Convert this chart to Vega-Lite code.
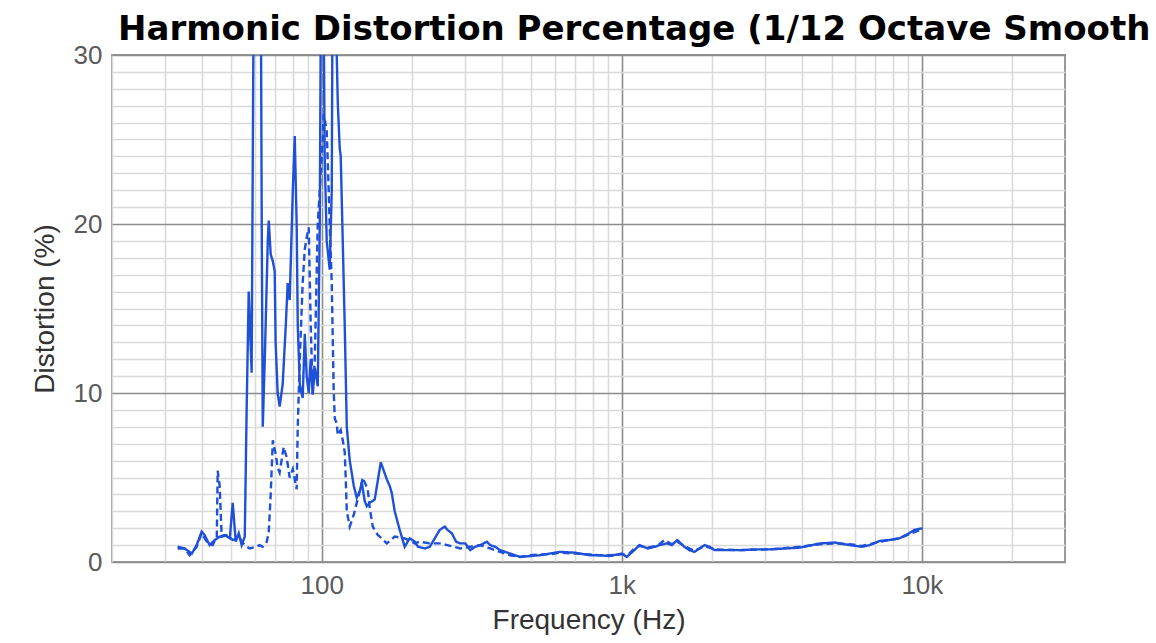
{
  "$schema": "https://vega.github.io/schema/vega-lite/v6.json",
  "autosize": "none",
  "width": 953,
  "height": 507,
  "padding": {"left": 112, "top": 55, "right": 91, "bottom": 81},
  "background": "white",
  "config": {
    "font": "Liberation Sans",
    "view": {"stroke": "#9a9a9a", "strokeWidth": 2}
  },
  "title": {
    "text": "Harmonic Distortion Percentage (1/12 Octave Smooth",
    "anchor": "start",
    "frame": "group",
    "font": "DejaVu Sans",
    "fontSize": 34,
    "fontWeight": "bold",
    "color": "#000000",
    "offset": -5,
    "dx": 6
  },
  "data": {
    "values": [
      {"f": 33.1, "v": 0.9, "s": "A"}, {"f": 34.9, "v": 0.8, "s": "A"}, {"f": 36.9, "v": 0.5, "s": "A"}, {"f": 38.3, "v": 1.0, "s": "A"},
      {"f": 39.8, "v": 1.8, "s": "A"}, {"f": 40.7, "v": 1.6, "s": "A"}, {"f": 42.3, "v": 1.0, "s": "A"}, {"f": 44.0, "v": 1.3, "s": "A"},
      {"f": 45.7, "v": 1.5, "s": "A"}, {"f": 47.5, "v": 1.6, "s": "A"}, {"f": 49.4, "v": 1.4, "s": "A"}, {"f": 50.5, "v": 3.5, "s": "A"},
      {"f": 51.7, "v": 1.2, "s": "A"}, {"f": 52.9, "v": 1.7, "s": "A"}, {"f": 54.1, "v": 1.0, "s": "A"}, {"f": 55.4, "v": 1.5, "s": "A"},
      {"f": 56.2, "v": 9.0, "s": "A"}, {"f": 57.1, "v": 16.0, "s": "A"}, {"f": 58.4, "v": 11.2, "s": "A"}, {"f": 59.0, "v": 26.0, "s": "A"},
      {"f": 59.6, "v": 40.0, "s": "A"}, {"f": 62.5, "v": 40.0, "s": "A"}, {"f": 63.1, "v": 20.0, "s": "A"}, {"f": 63.6, "v": 8.0, "s": "A"},
      {"f": 64.6, "v": 12.0, "s": "A"}, {"f": 66.1, "v": 19.0, "s": "A"}, {"f": 66.6, "v": 20.2, "s": "A"}, {"f": 67.6, "v": 18.2, "s": "A"},
      {"f": 68.7, "v": 17.8, "s": "A"}, {"f": 69.7, "v": 17.2, "s": "A"}, {"f": 70.2, "v": 13.0, "s": "A"}, {"f": 71.3, "v": 10.0, "s": "A"},
      {"f": 72.4, "v": 9.2, "s": "A"}, {"f": 74.1, "v": 10.5, "s": "A"}, {"f": 75.9, "v": 14.0, "s": "A"}, {"f": 77.0, "v": 16.5, "s": "A"},
      {"f": 78.2, "v": 15.5, "s": "A"}, {"f": 80.1, "v": 22.0, "s": "A"}, {"f": 81.3, "v": 25.2, "s": "A"}, {"f": 82.5, "v": 20.0, "s": "A"},
      {"f": 83.2, "v": 14.0, "s": "A"}, {"f": 84.5, "v": 10.5, "s": "A"}, {"f": 86.4, "v": 9.7, "s": "A"}, {"f": 87.8, "v": 13.5, "s": "A"},
      {"f": 89.1, "v": 11.0, "s": "A"}, {"f": 90.5, "v": 10.0, "s": "A"}, {"f": 91.9, "v": 12.0, "s": "A"}, {"f": 93.3, "v": 9.9, "s": "A"},
      {"f": 94.8, "v": 11.5, "s": "A"}, {"f": 97.0, "v": 10.4, "s": "A"}, {"f": 98.5, "v": 20.0, "s": "A"}, {"f": 99.8, "v": 40.0, "s": "A"},
      {"f": 100.8, "v": 40.0, "s": "A"}, {"f": 102.3, "v": 24.0, "s": "A"}, {"f": 103.9, "v": 19.0, "s": "A"}, {"f": 106.3, "v": 17.3, "s": "A"},
      {"f": 108.0, "v": 22.0, "s": "A"}, {"f": 109.0, "v": 40.0, "s": "A"}, {"f": 110.5, "v": 40.0, "s": "A"}, {"f": 112.2, "v": 30.0, "s": "A"},
      {"f": 113.1, "v": 27.2, "s": "A"}, {"f": 114.8, "v": 24.5, "s": "A"}, {"f": 115.7, "v": 24.0, "s": "A"}, {"f": 117.5, "v": 19.0, "s": "A"},
      {"f": 119.3, "v": 14.0, "s": "A"}, {"f": 121.2, "v": 8.0, "s": "A"}, {"f": 124.0, "v": 6.0, "s": "A"}, {"f": 127.9, "v": 4.5, "s": "A"},
      {"f": 130.8, "v": 3.8, "s": "A"}, {"f": 133.9, "v": 4.2, "s": "A"}, {"f": 136.0, "v": 4.7, "s": "A"}, {"f": 139.1, "v": 3.6, "s": "A"},
      {"f": 141.3, "v": 3.3, "s": "A"}, {"f": 144.5, "v": 3.5, "s": "A"}, {"f": 150.2, "v": 3.7, "s": "A"}, {"f": 153.7, "v": 4.8, "s": "A"},
      {"f": 157.3, "v": 5.9, "s": "A"}, {"f": 161.0, "v": 5.4, "s": "A"}, {"f": 164.7, "v": 4.9, "s": "A"}, {"f": 168.5, "v": 4.5, "s": "A"},
      {"f": 171.1, "v": 4.1, "s": "A"}, {"f": 175.1, "v": 3.0, "s": "A"}, {"f": 181.9, "v": 1.9, "s": "A"}, {"f": 189.0, "v": 0.9, "s": "A"},
      {"f": 196.4, "v": 1.4, "s": "A"}, {"f": 204.2, "v": 1.2, "s": "A"}, {"f": 209.4, "v": 0.9, "s": "A"}, {"f": 220.6, "v": 0.8, "s": "A"},
      {"f": 229.1, "v": 0.9, "s": "A"}, {"f": 238.1, "v": 1.4, "s": "A"}, {"f": 247.4, "v": 1.9, "s": "A"}, {"f": 257.0, "v": 2.1, "s": "A"},
      {"f": 262.5, "v": 1.9, "s": "A"}, {"f": 271.3, "v": 1.7, "s": "A"}, {"f": 280.5, "v": 1.2, "s": "A"}, {"f": 289.7, "v": 1.1, "s": "A"},
      {"f": 300.9, "v": 1.1, "s": "A"}, {"f": 312.6, "v": 0.7, "s": "A"}, {"f": 324.8, "v": 0.9, "s": "A"}, {"f": 337.5, "v": 1.0, "s": "A"},
      {"f": 355.0, "v": 1.2, "s": "A"}, {"f": 364.3, "v": 1.0, "s": "A"}, {"f": 378.4, "v": 0.9, "s": "A"}, {"f": 393.2, "v": 0.7, "s": "A"},
      {"f": 408.5, "v": 0.6, "s": "A"}, {"f": 424.4, "v": 0.5, "s": "A"}, {"f": 458.1, "v": 0.3, "s": "A"}, {"f": 494.5, "v": 0.35, "s": "A"},
      {"f": 533.8, "v": 0.4, "s": "A"}, {"f": 576.2, "v": 0.5, "s": "A"}, {"f": 622.0, "v": 0.6, "s": "A"}, {"f": 698.0, "v": 0.55, "s": "A"},
      {"f": 783.0, "v": 0.4, "s": "A"}, {"f": 843.0, "v": 0.4, "s": "A"}, {"f": 909.0, "v": 0.35, "s": "A"}, {"f": 1000, "v": 0.5, "s": "A"},
      {"f": 1039, "v": 0.3, "s": "A"}, {"f": 1101, "v": 0.7, "s": "A"}, {"f": 1145, "v": 1.0, "s": "A"}, {"f": 1220, "v": 0.8, "s": "A"},
      {"f": 1290, "v": 0.9, "s": "A"}, {"f": 1334, "v": 1.0, "s": "A"}, {"f": 1417, "v": 1.1, "s": "A"}, {"f": 1468, "v": 1.0, "s": "A"},
      {"f": 1531, "v": 1.3, "s": "A"}, {"f": 1616, "v": 0.9, "s": "A"}, {"f": 1679, "v": 0.7, "s": "A"}, {"f": 1746, "v": 0.6, "s": "A"},
      {"f": 1887, "v": 1.0, "s": "A"}, {"f": 1961, "v": 0.9, "s": "A"}, {"f": 2039, "v": 0.7, "s": "A"}, {"f": 2203, "v": 0.7, "s": "A"},
      {"f": 2483, "v": 0.7, "s": "A"}, {"f": 2792, "v": 0.75, "s": "A"}, {"f": 3126, "v": 0.75, "s": "A"}, {"f": 3500, "v": 0.8, "s": "A"},
      {"f": 3923, "v": 0.85, "s": "A"}, {"f": 4571, "v": 1.1, "s": "A"}, {"f": 5128, "v": 1.15, "s": "A"}, {"f": 5754, "v": 1.0, "s": "A"},
      {"f": 6310, "v": 0.9, "s": "A"}, {"f": 6714, "v": 1.0, "s": "A"}, {"f": 7241, "v": 1.25, "s": "A"}, {"f": 7808, "v": 1.3, "s": "A"},
      {"f": 8414, "v": 1.4, "s": "A"}, {"f": 9077, "v": 1.7, "s": "A"}, {"f": 9437, "v": 1.9, "s": "A"}, {"f": 10077, "v": 2.0, "s": "A"},

      {"f": 33.1, "v": 0.8, "s": "B"}, {"f": 34.9, "v": 0.8, "s": "B"}, {"f": 36.3, "v": 0.4, "s": "B"}, {"f": 38.3, "v": 0.9, "s": "B"},
      {"f": 39.8, "v": 1.7, "s": "B"}, {"f": 41.4, "v": 1.2, "s": "B"}, {"f": 43.3, "v": 1.0, "s": "B"}, {"f": 44.7, "v": 1.5, "s": "B"},
      {"f": 45.0, "v": 5.4, "s": "B"}, {"f": 45.7, "v": 4.5, "s": "B"}, {"f": 46.4, "v": 1.5, "s": "B"}, {"f": 48.6, "v": 1.6, "s": "B"},
      {"f": 50.5, "v": 1.3, "s": "B"}, {"f": 53.3, "v": 1.4, "s": "B"}, {"f": 55.4, "v": 1.0, "s": "B"}, {"f": 57.5, "v": 0.8, "s": "B"},
      {"f": 60.3, "v": 0.9, "s": "B"}, {"f": 62.1, "v": 1.0, "s": "B"}, {"f": 63.6, "v": 0.9, "s": "B"}, {"f": 65.6, "v": 1.2, "s": "B"},
      {"f": 66.6, "v": 1.8, "s": "B"}, {"f": 67.6, "v": 4.0, "s": "B"}, {"f": 68.7, "v": 7.2, "s": "B"}, {"f": 70.2, "v": 6.4, "s": "B"},
      {"f": 71.3, "v": 5.6, "s": "B"}, {"f": 72.4, "v": 5.3, "s": "B"}, {"f": 74.7, "v": 6.8, "s": "B"}, {"f": 76.4, "v": 6.2, "s": "B"},
      {"f": 78.2, "v": 5.0, "s": "B"}, {"f": 80.1, "v": 5.5, "s": "B"}, {"f": 82.5, "v": 4.3, "s": "B"}, {"f": 83.2, "v": 8.0, "s": "B"},
      {"f": 84.5, "v": 12.0, "s": "B"}, {"f": 86.4, "v": 16.5, "s": "B"}, {"f": 87.8, "v": 18.5, "s": "B"}, {"f": 89.1, "v": 19.2, "s": "B"},
      {"f": 90.5, "v": 19.8, "s": "B"}, {"f": 91.9, "v": 14.0, "s": "B"}, {"f": 93.3, "v": 10.0, "s": "B"}, {"f": 94.8, "v": 12.0, "s": "B"},
      {"f": 97.0, "v": 20.0, "s": "B"}, {"f": 98.5, "v": 22.0, "s": "B"}, {"f": 100.8, "v": 25.0, "s": "B"}, {"f": 101.5, "v": 26.5, "s": "B"},
      {"f": 102.3, "v": 26.2, "s": "B"}, {"f": 103.9, "v": 25.5, "s": "B"}, {"f": 105.5, "v": 22.0, "s": "B"}, {"f": 106.3, "v": 20.0, "s": "B"},
      {"f": 108.0, "v": 16.5, "s": "B"}, {"f": 109.6, "v": 10.2, "s": "B"}, {"f": 110.5, "v": 8.5, "s": "B"}, {"f": 112.2, "v": 8.2, "s": "B"},
      {"f": 113.1, "v": 7.5, "s": "B"}, {"f": 115.7, "v": 7.8, "s": "B"}, {"f": 117.5, "v": 7.2, "s": "B"}, {"f": 119.3, "v": 6.5, "s": "B"},
      {"f": 120.2, "v": 5.0, "s": "B"}, {"f": 121.2, "v": 3.0, "s": "B"}, {"f": 124.0, "v": 2.1, "s": "B"}, {"f": 127.9, "v": 2.8, "s": "B"},
      {"f": 130.8, "v": 3.5, "s": "B"}, {"f": 134.0, "v": 4.2, "s": "B"}, {"f": 137.0, "v": 5.0, "s": "B"}, {"f": 139.1, "v": 4.7, "s": "B"},
      {"f": 142.4, "v": 4.3, "s": "B"}, {"f": 144.5, "v": 3.2, "s": "B"}, {"f": 147.9, "v": 2.1, "s": "B"}, {"f": 153.7, "v": 1.6, "s": "B"},
      {"f": 156.1, "v": 1.5, "s": "B"}, {"f": 164.7, "v": 1.1, "s": "B"}, {"f": 175.1, "v": 1.5, "s": "B"}, {"f": 189.0, "v": 1.4, "s": "B"},
      {"f": 204.2, "v": 1.1, "s": "B"}, {"f": 212.0, "v": 1.2, "s": "B"}, {"f": 229.1, "v": 1.1, "s": "B"}, {"f": 247.4, "v": 1.1, "s": "B"},
      {"f": 262.0, "v": 1.0, "s": "B"}, {"f": 289.7, "v": 0.8, "s": "B"}, {"f": 312.6, "v": 0.9, "s": "B"}, {"f": 337.5, "v": 1.0, "s": "B"},
      {"f": 364.3, "v": 0.8, "s": "B"}, {"f": 393.0, "v": 0.6, "s": "B"}, {"f": 424.0, "v": 0.4, "s": "B"}, {"f": 458.0, "v": 0.3, "s": "B"},
      {"f": 494.0, "v": 0.4, "s": "B"}, {"f": 534.0, "v": 0.45, "s": "B"}, {"f": 576.0, "v": 0.45, "s": "B"}, {"f": 622.0, "v": 0.55, "s": "B"},
      {"f": 698.0, "v": 0.5, "s": "B"}, {"f": 783.0, "v": 0.45, "s": "B"}, {"f": 843.0, "v": 0.4, "s": "B"}, {"f": 909.0, "v": 0.4, "s": "B"},
      {"f": 1000, "v": 0.45, "s": "B"}, {"f": 1059, "v": 0.5, "s": "B"}, {"f": 1101, "v": 0.8, "s": "B"}, {"f": 1145, "v": 0.95, "s": "B"},
      {"f": 1220, "v": 0.85, "s": "B"}, {"f": 1290, "v": 0.95, "s": "B"}, {"f": 1334, "v": 1.05, "s": "B"}, {"f": 1387, "v": 1.3, "s": "B"},
      {"f": 1468, "v": 1.05, "s": "B"}, {"f": 1531, "v": 1.2, "s": "B"}, {"f": 1616, "v": 0.95, "s": "B"}, {"f": 1746, "v": 0.65, "s": "B"},
      {"f": 1887, "v": 0.95, "s": "B"}, {"f": 2039, "v": 0.75, "s": "B"}, {"f": 2483, "v": 0.7, "s": "B"}, {"f": 3126, "v": 0.75, "s": "B"},
      {"f": 3923, "v": 0.9, "s": "B"}, {"f": 4571, "v": 1.05, "s": "B"}, {"f": 5128, "v": 1.1, "s": "B"}, {"f": 5754, "v": 1.05, "s": "B"},
      {"f": 6310, "v": 0.95, "s": "B"}, {"f": 6714, "v": 1.05, "s": "B"}, {"f": 7241, "v": 1.2, "s": "B"}, {"f": 8414, "v": 1.4, "s": "B"},
      {"f": 9077, "v": 1.65, "s": "B"}, {"f": 10077, "v": 1.95, "s": "B"}
    ]
  },
  "mark": {"type": "line", "clip": true, "strokeWidth": 2.4, "interpolate": "linear"},
  "encoding": {
    "x": {
      "field": "f",
      "type": "quantitative",
      "scale": {"type": "log", "domain": [20, 30000], "nice": false},
      "axis": {
        "title": "Frequency (Hz)",
        "titleFont": "Liberation Sans",
        "titleFontSize": 28,
        "titleFontWeight": "normal",
        "titleColor": "#333333",
        "titlePadding": 8,
        "values": [20, 30, 40, 50, 60, 70, 80, 90, 100, 200, 300, 400, 500, 600, 700, 800, 900, 1000, 2000, 3000, 4000, 5000, 6000, 7000, 8000, 9000, 10000, 20000],
        "labelExpr": "datum.value == 100 ? '100' : datum.value == 1000 ? '1k' : datum.value == 10000 ? '10k' : ''",
        "labelOverlap": false,
        "labelFont": "Liberation Sans",
        "labelFontSize": 26,
        "labelColor": "#5a5a5a",
        "labelPadding": 10,
        "ticks": false,
        "domain": false,
        "grid": true,
        "gridColor": {"condition": {"test": "datum.value == 100 || datum.value == 1000 || datum.value == 10000", "value": "#8c8c8c"}, "value": "#dadada"},
        "gridWidth": 1.6,
        "gridOpacity": 1
      }
    },
    "y": {
      "field": "v",
      "type": "quantitative",
      "scale": {"domain": [0, 30], "nice": false},
      "axis": {
        "title": "Distortion (%)",
        "titleFont": "Liberation Sans",
        "titleFontSize": 28,
        "titleFontWeight": "normal",
        "titleColor": "#333333",
        "titlePadding": 14,
        "values": [0, 1, 2, 3, 4, 5, 6, 7, 8, 9, 10, 11, 12, 13, 14, 15, 16, 17, 18, 19, 20, 21, 22, 23, 24, 25, 26, 27, 28, 29, 30],
        "labelExpr": "datum.value % 10 == 0 ? datum.label : ''",
        "labelOverlap": false,
        "labelFont": "Liberation Sans",
        "labelFontSize": 26,
        "labelColor": "#5a5a5a",
        "labelPadding": 10,
        "ticks": false,
        "domain": false,
        "grid": true,
        "gridColor": {"condition": {"test": "datum.value % 10 == 0", "value": "#8c8c8c"}, "value": "#dadada"},
        "gridWidth": 1.6,
        "gridOpacity": 1
      }
    },
    "color": {"field": "s", "type": "nominal", "scale": {"domain": ["A", "B"], "range": ["#1f50d8", "#1f50d8"]}, "legend": null},
    "strokeDash": {"field": "s", "type": "nominal", "scale": {"domain": ["A", "B"], "range": [[1, 0], [7, 4]]}, "legend": null}
  }
}
